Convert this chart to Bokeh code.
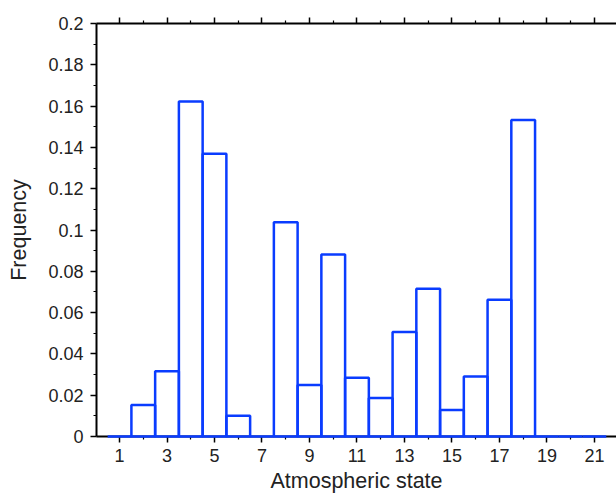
from bokeh.plotting import figure
from bokeh.models import LinearAxis, FixedTicker, Range1d, ColumnDataSource
from bokeh.embed import file_html
from bokeh.resources import INLINE

# ---- data ----
states = list(range(1, 22))
frequency = [0.0, 0.0153, 0.0316, 0.1622, 0.1369, 0.0100, 0.0, 0.1038, 0.0250,
             0.0881, 0.0284, 0.0187, 0.0506, 0.0716, 0.0128, 0.0290, 0.0662,
             0.1533, 0.0, 0.0, 0.0]
x_major_ticks = [1, 3, 5, 7, 9, 11, 13, 15, 17, 19, 21]
x_minor_ticks = [0, 2, 4, 6, 8, 10, 12, 14, 16, 18, 20, 22]
y_ticks = [0, 0.02, 0.04, 0.06, 0.08, 0.1, 0.12, 0.14, 0.16, 0.18, 0.2]
y_tick_labels = ["0", "0.02", "0.04", "0.06", "0.08", "0.1", "0.12", "0.14",
                 "0.16", "0.18", "0.2"]
y_minor_ticks = [0.01, 0.03, 0.05, 0.07, 0.09, 0.11, 0.13, 0.15, 0.17, 0.19]

src = ColumnDataSource(dict(
    left=[s - 0.5 for s in states],
    right=[s + 0.5 for s in states],
    top=frequency,
    bottom=[0.0] * len(states),
))

FONT = "Liberation Sans"
TXT = "#222222"

p = figure(width=616, height=496, output_backend="svg", toolbar_location=None,
           x_range=Range1d(0.03, 21.93), y_range=Range1d(0, 0.2),
           x_axis_location=None, y_axis_location=None,
           min_border_left=96, min_border_right=0, min_border_top=23,
           min_border_bottom=60)
p.outline_line_color = None
p.grid.visible = False
p.background_fill_color = "white"
p.border_fill_color = "white"


def style_axis(ax):
    ax.axis_line_color = "black"
    ax.axis_line_width = 2
    ax.major_tick_line_color = "black"
    ax.major_tick_line_width = 1.5
    ax.minor_tick_line_color = "black"
    ax.minor_tick_line_width = 1.2
    ax.major_tick_out = 6
    ax.major_tick_in = 0
    ax.minor_tick_out = 3
    ax.minor_tick_in = 0
    ax.major_label_text_font = FONT
    ax.major_label_text_font_size = "18px"
    ax.major_label_text_color = TXT
    ax.axis_label_text_font = FONT
    ax.axis_label_text_font_size = "21.5px"
    ax.axis_label_text_font_style = "normal"
    ax.axis_label_text_color = TXT


xb = LinearAxis(ticker=FixedTicker(ticks=x_major_ticks, minor_ticks=x_minor_ticks),
                axis_label="Atmospheric state")
style_axis(xb)
xb.major_label_standoff = 6
xb.axis_label_standoff = 4
p.add_layout(xb, "below")

xt = LinearAxis(ticker=FixedTicker(ticks=x_major_ticks, minor_ticks=x_minor_ticks))
style_axis(xt)
xt.major_label_overrides = {t: "" for t in x_major_ticks}
xt.major_label_standoff = 0
p.add_layout(xt, "above")

yl = LinearAxis(ticker=FixedTicker(ticks=y_ticks, minor_ticks=y_minor_ticks),
                axis_label="Frequency")
style_axis(yl)
yl.major_label_overrides = dict(zip(y_ticks, y_tick_labels))
yl.major_label_standoff = 7
yl.axis_label_standoff = 14
p.add_layout(yl, "left")

r = p.quad(left="left", right="right", top="top", bottom="bottom", source=src,
           fill_color=None, line_color="#0a3cff", line_width=2.5)
r.level = "overlay"

open("out.html", "w").write(file_html(p, INLINE))
